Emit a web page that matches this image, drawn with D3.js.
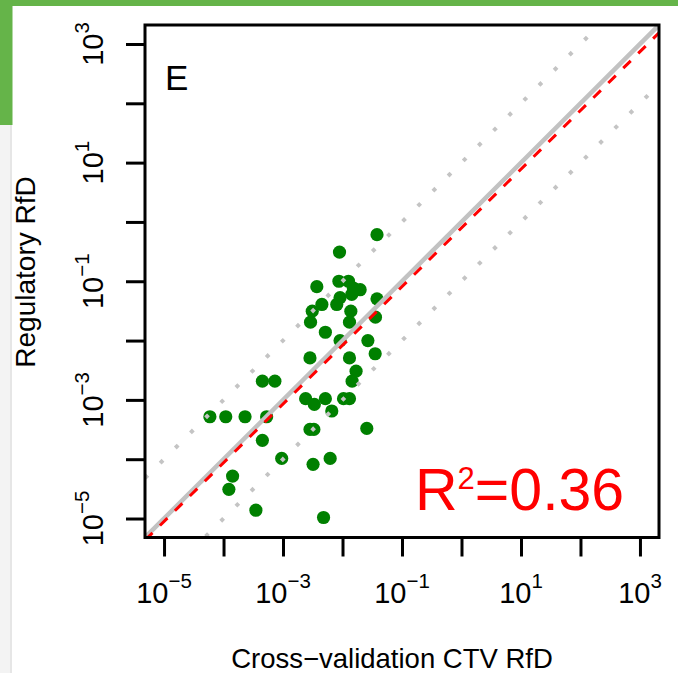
<!DOCTYPE html>
<html><head><meta charset="utf-8">
<script src="https://cdn.jsdelivr.net/npm/d3@7"></script>
<style>
html,body{margin:0;padding:0;background:#fff;}
svg{display:block;font-family:"Liberation Sans",Arial,Helvetica,sans-serif;}
</style>
</head><body>
<svg id="chart" width="678" height="673"></svg>
<script>
// ---- data ----
const ctvRfd = [3.8e-2, 8.9e-3, 3.7e-3, 8.7e-3, 1.26e-2, 1.52e-2, 1.98e-2, 1.43e-2, 9.1e-3, 8.0e-3,
  4.5e-3, 3.1e-3, 2.9e-3, 1.38e-2, 1.31e-2, 3.8e-2, 3.58e-2, 5.15e-3, 9.1e-3, 2.67e-2,
  3.54e-2, 2.84e-3, 1.31e-2, 1.69e-2, 1.45e-2, 4.5e-4, 7.3e-4, 2.4e-3, 3.36e-3, 5.15e-3,
  1.04e-2, 1.31e-2, 6.6e-3, 5.9e-5, 1.09e-4, 2.3e-4, 5.3e-4, 2.84e-3, 3.3e-3, 2.56e-2,
  4.5e-4, 9.5e-4, 3.2e-3, 6.2e-3, 1.42e-4, 1.23e-4, 3.5e-4, 4.8e-3];
const regulatoryRfd = [6.1e-1, 3.1e-1, 8.1e-2, 1.0e-1, 1.0e-1, 7.7e-2, 7.2e-2, 6.0e-2, 5.3e-2, 4.06e-2,
  4.06e-2, 3.13e-2, 2.04e-2, 3.13e-2, 2.04e-2, 5.06e-2, 2.48e-2, 1.38e-2, 1.0e-2, 1.0e-2,
  6.0e-3, 5.1e-3, 5.1e-3, 3.05e-3, 2.07e-3, 2.07e-3, 2.07e-3, 1.05e-3, 8.4e-4, 1.05e-3,
  1.05e-3, 1.05e-3, 6.5e-4, 5.2e-4, 5.2e-4, 5.2e-4, 5.2e-4, 3.18e-4, 3.18e-4, 3.3e-4,
  2.08e-4, 1.03e-4, 8.2e-5, 1.03e-4, 5.2e-5, 3.1e-5, 1.38e-5, 1.04e-5];
const axisLimits = [1e-5, 1e3];
const tickExponents = [-5, -4, -3, -2, -1, 0, 1, 2, 3];
const labelExponents = [-5, -3, -1, 1, 3];
const foldLines = [-1, 1];          // ±1 decade guide lines
const fitSlope = 0.99, fitIntercept = -0.10;   // regression in log10 space
const panelLabel = "E";
const xTitle = "Cross\u2212validation CTV RfD";
const yTitle = "Regulatory RfD";
const r2Value = "0.36";

// ---- layout ----
const svg = d3.select("#chart");
const box = {left: 145, right: 659, top: 25, bottom: 537.5};
const lo = Math.log10(axisLimits[0]), hi = Math.log10(axisLimits[1]);
const ext = 0.04 * (hi - lo);
const x = d3.scaleLog().domain([10 ** (lo - ext), 10 ** (hi + ext)]).range([box.left, box.right]);
const y = d3.scaleLog().domain([10 ** (lo - ext), 10 ** (hi + ext)]).range([box.bottom, box.top]);

// page decorations (slide background)
svg.append("rect").attr("x", 0).attr("y", 0).attr("width", 678).attr("height", 673).attr("fill", "#fff");
svg.append("rect").attr("x", 0).attr("y", 125).attr("width", 12).attr("height", 548).attr("fill", "#f3f3f3");
svg.append("rect").attr("x", 10).attr("y", 125).attr("width", 2).attr("height", 548).attr("fill", "#e6e6e6");
svg.append("rect").attr("x", 0).attr("y", 0).attr("width", 678).attr("height", 6).attr("fill", "#65b449");
svg.append("rect").attr("x", 0).attr("y", 0).attr("width", 12.5).attr("height", 125).attr("fill", "#65b449");

svg.append("clipPath").attr("id", "plotclip").append("rect")
  .attr("x", box.left).attr("y", box.top)
  .attr("width", box.right - box.left).attr("height", box.bottom - box.top);

// points
const pts = ctvRfd.map((v, i) => ({cx: v, cy: regulatoryRfd[i]}));
svg.append("g").selectAll("circle").data(pts).join("circle")
  .attr("cx", d => x(d.cx)).attr("cy", d => y(d.cy)).attr("r", 6.6)
  .attr("fill", "#008000");

// reference lines (log-log space)
const dlo = lo - ext, dhi = hi + ext;
const lineGen = d3.line().x(d => x(10 ** d[0])).y(d => y(10 ** d[1]));
const lines = svg.append("g").attr("clip-path", "url(#plotclip)");
foldLines.forEach(k => {
  lines.append("path").attr("d", lineGen([[dlo, dlo + k], [dhi, dhi + k]]))
    .attr("fill", "none").attr("stroke", "#c4c4c4").attr("stroke-width", 4)
    .attr("stroke-dasharray", "4,17.4");
});
lines.append("path").attr("d", lineGen([[dlo, dlo], [dhi, dhi]]))
  .attr("fill", "none").attr("stroke", "#c2c2c2").attr("stroke-width", 4.5);
lines.append("path").attr("d", lineGen([[dlo, fitSlope * dlo + fitIntercept], [dhi, fitSlope * dhi + fitIntercept]]))
  .attr("fill", "none").attr("stroke", "#ff0000").attr("stroke-width", 3)
  .attr("stroke-dasharray", "10.5,10.5");

// box
svg.append("rect").attr("x", box.left).attr("y", box.top)
  .attr("width", box.right - box.left).attr("height", box.bottom - box.top)
  .attr("fill", "none").attr("stroke", "#000").attr("stroke-width", 3);

// axes
const xAxis = d3.axisBottom(x).tickValues(tickExponents.map(e => 10 ** e)).tickSize(19).tickFormat("");
const yAxis = d3.axisLeft(y).tickValues(tickExponents.map(e => 10 ** e)).tickSize(19).tickFormat("");
const gx = svg.append("g").attr("transform", `translate(0,${box.bottom})`).call(xAxis);
const gy = svg.append("g").attr("transform", `translate(${box.left},0)`).call(yAxis);
[gx, gy].forEach(g => {
  g.select(".domain").remove();
  g.selectAll(".tick line").attr("stroke", "#000").attr("stroke-width", 3);
});

function expLabel(sel, e) {
  sel.append("tspan").text("10");
  sel.append("tspan").attr("dy", -14.5).attr("font-size", 20.5)
    .text(e < 0 ? "\u2212" + Math.abs(e) : String(e));
}
labelExponents.forEach(e => {
  const t = svg.append("text").attr("x", x(10 ** e)).attr("y", 602.5)
    .attr("text-anchor", "middle").attr("font-size", 29).attr("fill", "#000");
  expLabel(t, e);
  const ty = svg.append("text")
    .attr("transform", `translate(103.3,${y(10 ** e)}) rotate(-90)`)
    .attr("text-anchor", "middle").attr("font-size", 29).attr("fill", "#000");
  expLabel(ty, e);
});

// titles
svg.append("text").attr("x", 392).attr("y", 668)
  .attr("text-anchor", "middle").attr("font-size", 27.5).attr("fill", "#000").text(xTitle);
svg.append("text").attr("transform", `translate(35,272) rotate(-90)`)
  .attr("text-anchor", "middle").attr("font-size", 28).attr("fill", "#000").text(yTitle);

// panel label
svg.append("text").attr("x", 165).attr("y", 90).attr("font-size", 35).attr("fill", "#000").text(panelLabel);

// R^2 annotation
const r2 = svg.append("text").attr("x", 415).attr("y", 510).attr("font-size", 59).attr("fill", "#ff0000");
r2.append("tspan").text("R");
r2.append("tspan").attr("dy", -21).attr("font-size", 31).text("2");
r2.append("tspan").attr("dy", 21).text("=" + r2Value);
</script>
</body></html>
